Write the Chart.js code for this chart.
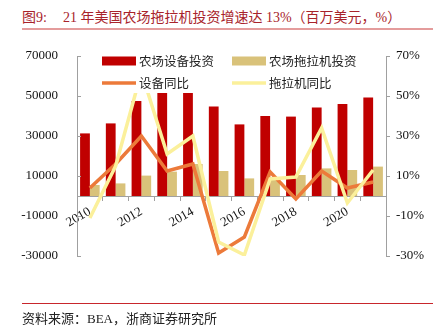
<!DOCTYPE html>
<html>
<head>
<meta charset="utf-8">
<script src="https://cdn.jsdelivr.net/npm/chart.js@4.4.0/dist/chart.umd.min.js"></script>
<style>
  html, body { margin: 0; padding: 0; background: #fff; }
  #wrap { position: relative; width: 441px; height: 327px; overflow: hidden; }
  #title { position: absolute; left: 22px; top: 6px; font: 14px "Liberation Serif", "Noto Sans CJK SC"; color: #a8232b; white-space: nowrap; }
  #title .gap { display: inline-block; width: 16px; }
  #titleLine { position: absolute; left: 22px; top: 28px; width: 411px; height: 2px; background: #e49c9c; }
  #srcLine { position: absolute; left: 22px; top: 303px; width: 411px; height: 1px; background: #c8262c; }
  #source { position: absolute; left: 22px; top: 308px; font: 13px "Liberation Serif", "Noto Sans CJK SC"; color: #222; white-space: nowrap; }
  canvas { position: absolute; left: 0; top: 0; }
</style>
</head>
<body>
<div id="wrap">
  <div id="title">图9:<span class="gap"></span>21 年美国农场拖拉机投资增速达 13%（百万美元，%）</div>
  <div id="titleLine"></div>
  <canvas id="farmChart" width="441" height="327"></canvas>
  <div id="srcLine"></div>
  <div id="source">资料来源：BEA，浙商证券研究所</div>
</div>
<script>
// ===== Data =====
const years = ['2010', '2011', '2012', '2013', '2014', '2015', '2016', '2017', '2018', '2019', '2020', '2021'];
const equipInvest = [31300, 36300, 47500, 53500, 62000, 44700, 35800, 40000, 39700, 44300, 46000, 49300];   // 百万美元
const tractorInvest = [5500, 6300, 10200, 12200, 16000, 12500, 8800, 9500, 10500, 13800, 13000, 14700];     // 百万美元
const equipYoy = [4, 16, 30, 12.5, 16, -28.5, -20.5, 12, -1.5, 12.5, 4, 7];                              // %
const tractorYoy = [-11, 15, 62, 21, 30, -23, -29.5, 8.5, 9.5, 34, -3.5, 13];                            // %

const leftTicks = { min: -30000, max: 70000, step: 20000 };
const rightTicks = { min: -30, max: 70, step: 20 };

// ===== Styles =====
const RED = '#c00000';
const TAN = '#d9c27a';
const ORANGE = '#ec7a3a';
const YELLOW = '#fbf09b';
const AXIS = '#a0a0a0';
const tickFont = { family: '"Liberation Serif", "Times New Roman", serif', size: 13 };

// legend drawn on a white panel inside the plot, over the tall bars
const legendPanel = {
  id: 'legendPanel',
  afterDatasetsDraw(chart) {
    const ctx = chart.ctx;
    ctx.save();
    ctx.fillStyle = '#fff';
    ctx.fillRect(95, 48, 272, 45);

    const items = [
      { text: '农场设备投资', color: RED, type: 'box', x: 102, y: 61 },
      { text: '农场拖拉机投资', color: TAN, type: 'box', x: 232, y: 61 },
      { text: '设备同比', color: ORANGE, type: 'line', x: 102, y: 83 },
      { text: '拖拉机同比', color: YELLOW, type: 'line', x: 232, y: 83 }
    ];
    ctx.font = '12.5px "Noto Sans CJK SC"';
    ctx.textBaseline = 'middle';
    items.forEach(it => {
      if (it.type === 'box') {
        ctx.fillStyle = it.color;
        ctx.fillRect(it.x, it.y - 4.5, 34, 9);
      } else {
        ctx.strokeStyle = it.color;
        ctx.lineWidth = 3.5;
        ctx.beginPath();
        ctx.moveTo(it.x, it.y);
        ctx.lineTo(it.x + 34, it.y);
        ctx.stroke();
      }
      ctx.fillStyle = '#222';
      ctx.fillText(it.text, it.x + 37, it.y);
    });

    // short inward tick marks on the left value axis
    const ys = chart.scales.y;
    ctx.strokeStyle = AXIS;
    ctx.lineWidth = 1;
    ys.ticks.forEach((t, i) => {
      const py = Math.round(ys.getPixelForTick(i)) + 0.5;
      ctx.beginPath();
      ctx.moveTo(ys.right, py);
      ctx.lineTo(ys.right + 4, py);
      ctx.stroke();
    });
    ctx.restore();
  }
};

const ctx = document.getElementById('farmChart').getContext('2d');
const farmChart = new Chart(ctx, {
  type: 'bar',
  data: {
    labels: years,
    datasets: [
      {
        label: '农场设备投资',
        data: equipInvest,
        backgroundColor: RED,
        yAxisID: 'y',
        order: 2,
        categoryPercentage: 0.76,
        barPercentage: 1.0
      },
      {
        label: '农场拖拉机投资',
        data: tractorInvest,
        backgroundColor: TAN,
        yAxisID: 'y',
        order: 3,
        categoryPercentage: 0.76,
        barPercentage: 1.0
      },
      {
        type: 'line',
        label: '设备同比',
        data: equipYoy,
        borderColor: ORANGE,
        borderWidth: 3.5,
        pointRadius: 0,
        tension: 0,
        fill: false,
        yAxisID: 'y1',
        order: 1
      },
      {
        type: 'line',
        label: '拖拉机同比',
        data: tractorYoy,
        borderColor: YELLOW,
        borderWidth: 3.5,
        pointRadius: 0,
        tension: 0,
        fill: false,
        yAxisID: 'y1',
        order: 0
      }
    ]
  },
  options: {
    responsive: false,
    animation: false,
    devicePixelRatio: 1,
    layout: { padding: { top: 56, bottom: 71, left: 0, right: 0 } },
    plugins: {
      legend: { display: false },
      tooltip: { enabled: false }
    },
    scales: {
      x: {
        type: 'category',
        position: { y: 0 },
        offset: true,
        grid: { display: true, drawOnChartArea: false, tickLength: 4, color: AXIS, offset: true },
        border: { color: AXIS },
        ticks: {
          autoSkip: false,
          maxRotation: 30,
          minRotation: 30,
          padding: 4,
          color: '#111',
          font: tickFont,
          callback: (v, i) => (i % 2 === 0 ? years[i] : '')
        }
      },
      y: {
        position: 'left',
        min: leftTicks.min,
        max: leftTicks.max,
        grid: { display: false },
        border: { color: AXIS },
        ticks: { stepSize: leftTicks.step, padding: 11, color: '#111', font: tickFont, callback: v => String(v) },
        afterFit: s => { s.width = 77; }
      },
      y1: {
        position: 'right',
        min: rightTicks.min,
        max: rightTicks.max,
        grid: { display: true, drawOnChartArea: false, tickLength: 4, color: AXIS },
        border: { color: AXIS },
        ticks: { stepSize: rightTicks.step, padding: 6, color: '#111', font: tickFont, callback: v => v + '%' },
        afterFit: s => { s.width = 55; }
      }
    }
  },
  plugins: [legendPanel]
});
</script>
</body>
</html>
